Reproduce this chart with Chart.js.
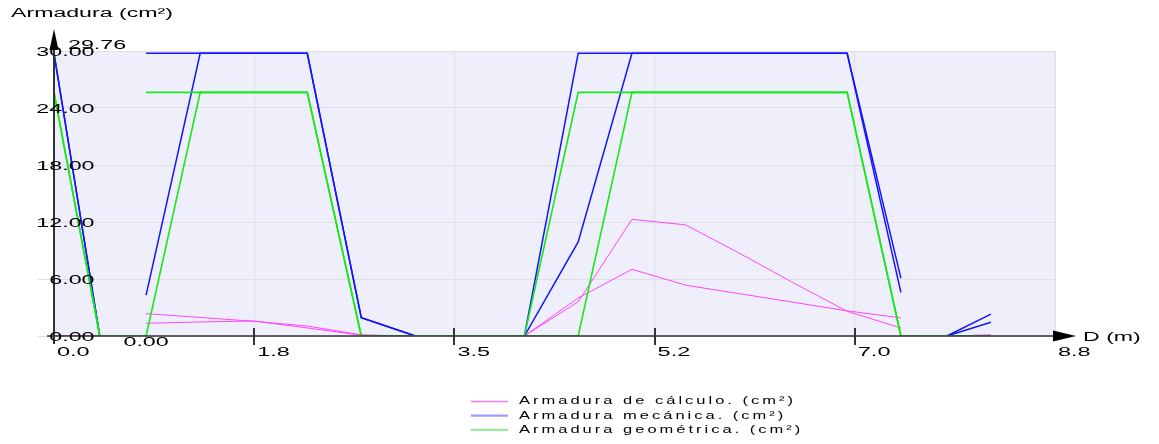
<!DOCTYPE html>
<html>
<head>
<meta charset="utf-8">
<script src="https://cdn.jsdelivr.net/npm/chart.js@4"></script>
<style>
  html, body { margin: 0; padding: 0; background: #fff; overflow: hidden; }
  canvas { display: block; }
</style>
</head>
<body>
<canvas id="grafico" width="1159" height="444"></canvas>
<script>
// Distances along the beam (m); each span starts at the indices in inicioTramo
const distancias = [0, 0.40, 0.805, 1.278, 1.746, 2.214, 2.686, 3.159,
  4.112, 4.582, 5.052, 5.521, 5.993, 6.463, 6.933, 7.403, 7.805, 8.19];
const inicioTramo = [0, 2, 8, 16];

// Reinforcement envelopes (cm²), upper and lower curve for each kind
const calculoSup = [0, 0, 2.35, 1.95, 1.55, 1.05, 0.12, 0, 0, 3.6, 12.28, 11.7, 8.7, 5.6, 2.6, 0.85, 0, 0.1];
const calculoInf = [0, 0, 1.34, 1.48, 1.58, 0.85, 0.08, 0, 0, 4.0, 7.02, 5.35, 4.45, 3.55, 2.65, 1.9, 0, 0.1];
const mecanicaSup = [29.76, 0, 29.76, 29.76, 29.76, 29.76, 1.93, 0, 0, 29.76, 29.76, 29.76, 29.76, 29.76, 29.76, 6.1, 0, 2.3];
const mecanicaInf = [29.76, 0, 4.3, 29.76, 29.76, 29.76, 1.93, 0, 0, 9.9, 29.76, 29.76, 29.76, 29.76, 29.76, 4.6, 0, 1.44];
const geometricaSup = [25.65, 0, 25.65, 25.65, 25.65, 25.65, 0, 0, 0, 25.65, 25.65, 25.65, 25.65, 25.65, 25.65, 0, 0, 0];
const geometricaInf = [25.65, 0, 0, 25.65, 25.65, 25.65, 0, 0, 0, 0, 25.65, 25.65, 25.65, 25.65, 25.65, 0, 0, 0];

// Axis labelling
const ticksX = [0, 1.75, 3.5, 5.25, 7.0, 8.75];
const etiquetasX = ['0.0', '1.8', '3.5', '5.2', '7.0', '8.8'];
const ticksY = [0, 6, 12, 18, 24, 30];
const etiquetasY = ['0.00', '6.00', '12.00', '18.00', '24.00', '30.00'];
const tituloY = 'Armadura (cm²)';
const tituloX = 'D (m)';
const leyenda = ['Armadura de cálculo. (cm²)', 'Armadura mecánica. (cm²)', 'Armadura geométrica. (cm²)'];

const colores = { calculo: '#ff44ff', mecanica: '#1414ff', geometrica: '#18e818' };
const coloresLeyenda = ['#f07cf0', '#9c9cff', '#4cea4c'];

// Build {x,y} points; a null point between spans breaks the line
function puntos(valores, continuo) {
  const out = [];
  valores.forEach((v, i) => {
    if (!continuo && i > 0 && inicioTramo.includes(i)) {
      out.push({ x: (distancias[i - 1] + distancias[i]) / 2, y: null });
    }
    out.push({ x: distancias[i], y: v });
  });
  return out;
}

function serie(valores, color, ancho, continuo) {
  return {
    data: puntos(valores, continuo),
    borderColor: color,
    borderWidth: ancho,
    pointRadius: 0,
    tension: 0,
    fill: false,
    spanGaps: false
  };
}

// First dataset is painted on top
const datasets = [
  serie(geometricaSup, colores.geometrica, 1.6, false),
  serie(geometricaInf, colores.geometrica, 1.6, true),
  serie(mecanicaSup, colores.mecanica, 1.5, false),
  serie(mecanicaInf, colores.mecanica, 1.5, false),
  serie(calculoSup, colores.calculo, 1, false),
  serie(calculoInf, colores.calculo, 1, false)
];

const FUENTE = '"Liberation Sans", Arial, sans-serif';

// Wide-set text: horizontal stretch plus optional letter spacing
function texto(ctx, s, x, y, align, size, sx, ls) {
  ctx.save();
  ctx.font = size + 'px ' + FUENTE;
  ctx.letterSpacing = (ls || 0) + 'px';
  const w = ctx.measureText(s).width * sx;
  const x0 = align === 'right' ? x - w : (align === 'center' ? x - w / 2 : x);
  ctx.translate(x0, y);
  ctx.scale(sx, 1);
  ctx.textAlign = 'left';
  ctx.textBaseline = 'alphabetic';
  ctx.fillStyle = '#000';
  ctx.fillText(s, 0, 0);
  ctx.restore();
}

const fondo = {
  id: 'fondo',
  beforeDraw(chart) {
    const { ctx, chartArea: a } = chart;
    ctx.save();
    ctx.fillStyle = '#efeffb';
    ctx.fillRect(a.left, a.top, a.right - a.left, a.bottom - a.top);
    // grid stubs running under the value labels
    ctx.strokeStyle = '#e0e0e0';
    ctx.lineWidth = 1;
    const y = chart.scales.y;
    ticksY.forEach(v => {
      const py = Math.round(y.getPixelForValue(v)) + 0.5;
      ctx.beginPath();
      ctx.moveTo(38, py);
      ctx.lineTo(a.left, py);
      ctx.stroke();
    });
    ctx.restore();
  }
};

const ejes = {
  id: 'ejes',
  afterDraw(chart) {
    const { ctx, chartArea: a } = chart;
    const sx = chart.scales.x, sy = chart.scales.y;
    const x0 = sx.getPixelForValue(0);
    const y0 = sy.getPixelForValue(0);
    ctx.save();
    ctx.strokeStyle = '#333';
    ctx.fillStyle = '#000';

    // horizontal axis with arrow
    ctx.lineWidth = 1.5;
    ctx.beginPath();
    ctx.moveTo(47, y0);
    ctx.lineTo(1068, y0);
    ctx.stroke();
    ctx.beginPath();
    ctx.moveTo(1076, y0);
    ctx.lineTo(1053, y0 - 5.5);
    ctx.lineTo(1053, y0 + 5.5);
    ctx.closePath();
    ctx.fill();

    // vertical axis with arrow
    ctx.lineWidth = 2;
    ctx.beginPath();
    ctx.moveTo(x0, 344);
    ctx.lineTo(x0, 40);
    ctx.stroke();
    ctx.beginPath();
    ctx.moveTo(x0, 29);
    ctx.lineTo(x0 - 4.5, 50);
    ctx.lineTo(x0 + 4.5, 50);
    ctx.closePath();
    ctx.fill();

    // tick marks crossing the horizontal axis
    ctx.lineWidth = 2;
    ticksX.forEach((v, i) => {
      if (i === 0 || i === ticksX.length - 1) return;
      const px = Math.round(sx.getPixelForValue(v));
      ctx.beginPath();
      ctx.moveTo(px, y0 - 8);
      ctx.lineTo(px, y0 + 9);
      ctx.stroke();
    });
    ctx.restore();

    // tick labels
    ticksY.forEach((v, i) => {
      texto(ctx, etiquetasY[i], 94.5, sy.getPixelForValue(v) + 4.5, 'right', 12.5, 1.86, 0);
    });
    ticksX.forEach((v, i) => {
      texto(ctx, etiquetasX[i], sx.getPixelForValue(v) + 3, y0 + 19.5, 'left', 12.5, 1.88, 0);
    });

    // axis titles
    texto(ctx, tituloY, 11, 17, 'left', 12.5, 1.85, 0);
    texto(ctx, tituloX, 1083, y0 + 4.5, 'left', 12.5, 1.85, 0);

    // extreme values
    const maximo = Math.max(...mecanicaSup, ...mecanicaInf);
    const minimo = Math.min(...calculoSup, ...calculoInf);
    texto(ctx, maximo.toFixed(2), sx.getPixelForValue(distancias[0]) + 14, sy.getPixelForValue(maximo) - 4, 'left', 12.5, 1.86, 0);
    texto(ctx, minimo.toFixed(2), sx.getPixelForValue(distancias[2]), y0 + 9.5, 'center', 12.5, 1.86, 0);

    // legend
    ctx.save();
    leyenda.forEach((s, i) => {
      const ly = 401.5 + i * 14.2;
      ctx.strokeStyle = coloresLeyenda[i];
      ctx.lineWidth = i === 1 ? 2.2 : 1.3;
      ctx.beginPath();
      ctx.moveTo(471, ly);
      ctx.lineTo(508, ly);
      ctx.stroke();
      texto(ctx, s, 519, ly + 2.8, 'left', 11, 1.5, 2);
    });
    ctx.restore();
  }
};

new Chart(document.getElementById('grafico'), {
  type: 'line',
  data: { datasets },
  options: {
    responsive: false,
    animation: false,
    devicePixelRatio: 1,
    layout: { padding: { left: 54, top: 51, right: 104, bottom: 108 } },
    plugins: { legend: { display: false }, tooltip: { enabled: false } },
    scales: {
      x: {
        type: 'linear',
        min: 0,
        max: 8.75,
        afterBuildTicks: s => { s.ticks = ticksX.map(v => ({ value: v })); },
        ticks: { display: false },
        grid: { color: '#e0e0e0', lineWidth: 1, drawTicks: false },
        border: { display: false }
      },
      y: {
        type: 'linear',
        min: 0,
        max: 30,
        afterBuildTicks: s => { s.ticks = ticksY.map(v => ({ value: v })); },
        ticks: { display: false },
        grid: { color: '#e0e0e0', lineWidth: 1, drawTicks: false },
        border: { display: false }
      }
    }
  },
  plugins: [fondo, ejes]
});
</script>
</body>
</html>
